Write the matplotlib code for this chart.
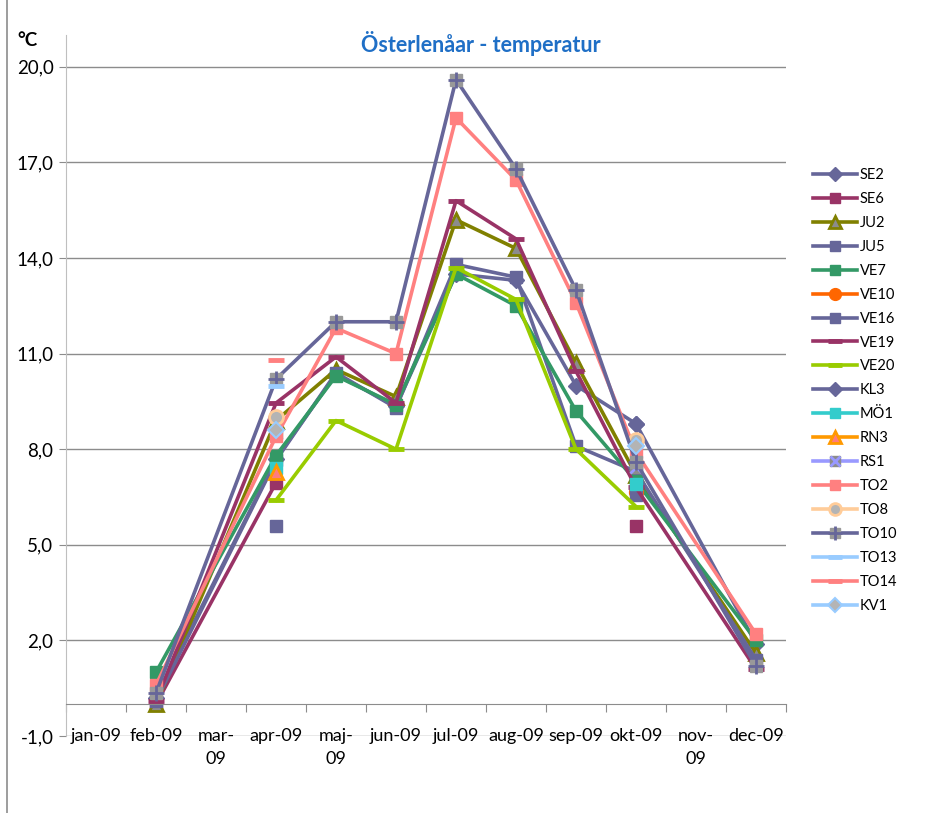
import numpy as np
import matplotlib.pyplot as plt
from matplotlib.lines import Line2D
from matplotlib.ticker import FuncFormatter

plt.rcParams['font.family'] = ['Lato', 'DejaVu Sans']

nan = np.nan

# monthly water temperature per station, 2009 (°C)
months = ['jan-09', 'feb-09', 'mar-09', 'apr-09', 'maj-09', 'jun-09',
          'jul-09', 'aug-09', 'sep-09', 'okt-09', 'nov-09', 'dec-09']
month_labels = ['jan-09', 'feb-09', 'mar-\n09', 'apr-09', 'maj-\n09', 'jun-09',
                'jul-09', 'aug-09', 'sep-09', 'okt-09', 'nov-\n09', 'dec-09']

stations = ['SE2', 'SE6', 'JU2', 'JU5', 'VE7', 'VE10', 'VE16', 'VE19', 'VE20', 'KL3',
            'MÖ1', 'RN3', 'RS1', 'TO2', 'TO8', 'TO10', 'TO13', 'TO14', 'KV1']

SE2 = [nan, 0.2, nan, 7.7, 10.35, 9.35, 13.5, 13.3, 10.0, 8.8, nan, 1.9]
SE6 = [nan, 0.0, nan, 6.95, nan, nan, nan, nan, nan, 5.6, nan, nan]
JU2 = [nan, 0.0, nan, 8.9, 10.5, 9.65, 15.2, 14.3, 10.7, 7.2, nan, 1.6]
JU5 = [nan, 0.1, nan, 7.65, 10.4, 9.3, 13.8, 13.4, 8.1, 7.3, nan, 1.4]
VE7 = [nan, 1.0, nan, 7.8, 10.3, 9.4, 13.5, 12.5, 9.2, 7.0, nan, 2.0]
VE10 = [nan, nan, nan, nan, nan, nan, nan, nan, nan, 6.65, nan, nan]
VE16 = [nan, nan, nan, 5.6, nan, nan, nan, nan, nan, 6.55, nan, nan]
VE19 = [nan, 0.1, nan, 9.45, 10.9, 9.45, 15.8, 14.6, 10.45, 6.8, nan, 1.1]
VE20 = [nan, nan, nan, 6.4, 8.9, 8.0, 13.7, 12.7, 8.0, 6.2, nan, nan]
KL3 = [nan, nan, nan, nan, nan, nan, nan, nan, nan, 8.8, nan, nan]
MO1 = [nan, nan, nan, 7.4, nan, nan, nan, nan, nan, 6.9, nan, nan]
RN3 = [nan, nan, nan, 7.3, nan, nan, nan, nan, nan, nan, nan, nan]
RS1 = [nan, nan, nan, 8.5, nan, nan, nan, nan, nan, 7.45, nan, nan]
TO2 = [nan, 0.6, nan, 8.4, 11.8, 11.0, 18.4, 16.45, 12.6, 7.9, nan, 2.2]
TO8 = [nan, nan, nan, 9.0, nan, nan, nan, nan, nan, 8.3, nan, nan]
TO10 = [nan, 0.35, nan, 10.2, 12.0, 12.0, 19.6, 16.8, 13.0, 7.6, nan, 1.2]
TO13 = [nan, nan, nan, 10.0, nan, nan, nan, nan, nan, nan, nan, nan]
TO14 = [nan, nan, nan, 10.8, nan, nan, nan, nan, nan, nan, nan, nan]
KV1 = [nan, nan, nan, 8.6, nan, nan, nan, nan, nan, 8.1, nan, nan]

values = [SE2, SE6, JU2, JU5, VE7, VE10, VE16, VE19, VE20, KL3,
          MO1, RN3, RS1, TO2, TO8, TO10, TO13, TO14, KV1]

slate = '#666699'
styles = {
    'SE2': dict(color=slate, marker='D', mfc=slate, mec=slate, ms=8),
    'SE6': dict(color='#993366', marker='s', mfc='#993366', mec='#993366', ms=9),
    'JU2': dict(color='#808000', marker='^', mfc='#8c8c8c', mec='#808000', ms=10, mew=2),
    'JU5': dict(color=slate, marker='s', mfc=slate, mec=slate, ms=9),
    'VE7': dict(color='#339966', marker='s', mfc='#339966', mec='#339966', ms=9),
    'VE10': dict(color='#FF6600', marker='o', mfc='#FF6600', mec='#FF6600', ms=10),
    'VE16': dict(color=slate, marker='s', mfc=slate, mec=slate, ms=8),
    'VE19': dict(color='#993366', marker='_', mec='#993366', ms=12, mew=3.5),
    'VE20': dict(color='#99CC00', marker='_', mec='#99CC00', ms=12, mew=3.5),
    'KL3': dict(color=slate, marker='D', mfc=slate, mec=slate, ms=8),
    'MÖ1': dict(color='#33CCCC', marker='s', mfc='#33CCCC', mec='#33CCCC', ms=9),
    'RN3': dict(color='#FF9900', marker='^', mfc='#FF7C80', mec='#FF9900', ms=10, mew=2),
    'RS1': dict(color='#9999FF', marker='s', mfc='#8c8c8c', mec='#8c8c8c', ms=8),
    'TO2': dict(color='#FF8080', marker='s', mfc='#FF8080', mec='#FF8080', ms=9),
    'TO8': dict(color='#FFCC99', marker='o', mfc='#b4b4b4', mec='#FFCC99', ms=10, mew=2),
    'TO10': dict(color=slate, marker='s', mfc='#999999', mec='#999999', ms=9),
    'TO13': dict(color='#99CCFF', marker='_', mec='#99CCFF', ms=12, mew=3.5),
    'TO14': dict(color='#FF8080', marker='_', mec='#FF8080', ms=12, mew=3.5),
    'KV1': dict(color='#99CCFF', marker='D', mfc='#b4b4b4', mec='#99CCFF', ms=8, mew=1.5),
}
# second marker drawn on top for the composite symbols
overlays = {
    'RS1': dict(marker='x', color='#9999FF', ms=9, mew=2),
    'TO10': dict(marker='+', color=slate, ms=12, mew=2),
}

x = np.arange(len(months))
# only months with a sample are part of the series, so lines run across jan/mar/nov
sampled = np.array([any(not np.isnan(v[i]) for v in values) for i in range(len(months))])

fig = plt.figure(figsize=(9.4, 8.13), dpi=100)
ax = fig.add_axes([66 / 940, 1 - 736 / 813, 720 / 940, 701 / 813])

handles = []
for name, vals in zip(stations, values):
    y = np.array(vals, dtype=float)[sampled]
    line, = ax.plot(x[sampled], y, lw=2.6, label=name, **styles[name])
    handle = line
    if name in overlays:
        top, = ax.plot(x[sampled], y, ls='none', **overlays[name])
        handle = (line, top)
    handles.append(handle)

ax.set_xlim(-0.5, 11.5)
ax.set_ylim(-1, 21)
ax.set_yticks(np.arange(-1, 21, 3))
ax.yaxis.set_major_formatter(FuncFormatter(lambda v, p: f'{v:.1f}'.replace('.', ',')))
ax.yaxis.grid(True, color='#8c8c8c', lw=1)
ax.set_axisbelow(True)

ax.spines['top'].set_visible(False)
ax.spines['right'].set_visible(False)
ax.spines['left'].set_color('#bfbfbf')
ax.spines['bottom'].set_position(('data', 0))
ax.spines['bottom'].set_color('#8c8c8c')

ax.set_xticks(np.arange(-0.5, 12, 1))
ax.set_xticklabels([])
ax.tick_params(axis='x', length=6, color='#8c8c8c', direction='out')
ax.tick_params(axis='y', length=5, color='#8c8c8c', labelsize=13.5, pad=4)

for i, lab in enumerate(month_labels):
    ax.annotate(lab, (i, -1), xytext=(0, 6), textcoords='offset points',
                ha='center', va='top', fontsize=13, linespacing=1.55,
                annotation_clip=False)

ax.legend(handles, stations, loc='upper left', bbox_to_anchor=(800 / 940, 1 - 155 / 813),
          bbox_transform=fig.transFigure, frameon=False, fontsize=10.5,
          handlelength=3.0, handletextpad=0.2, labelspacing=0.68, markerscale=0.85)

fig.text(0.511, 1 - 43 / 813, 'Österlenåar - temperatur', ha='center', va='center',
         color='#1F6FC6', fontsize=15.5, weight='bold')
fig.text(17 / 940, 1 - 40 / 813, '°C', ha='left', va='center', fontsize=13.5, weight='bold')
fig.add_artist(Line2D([6.5 / 940, 6.5 / 940], [0, 1], color='#8c8c8c', lw=1.2))

fig.savefig('out.png', dpi=100)
